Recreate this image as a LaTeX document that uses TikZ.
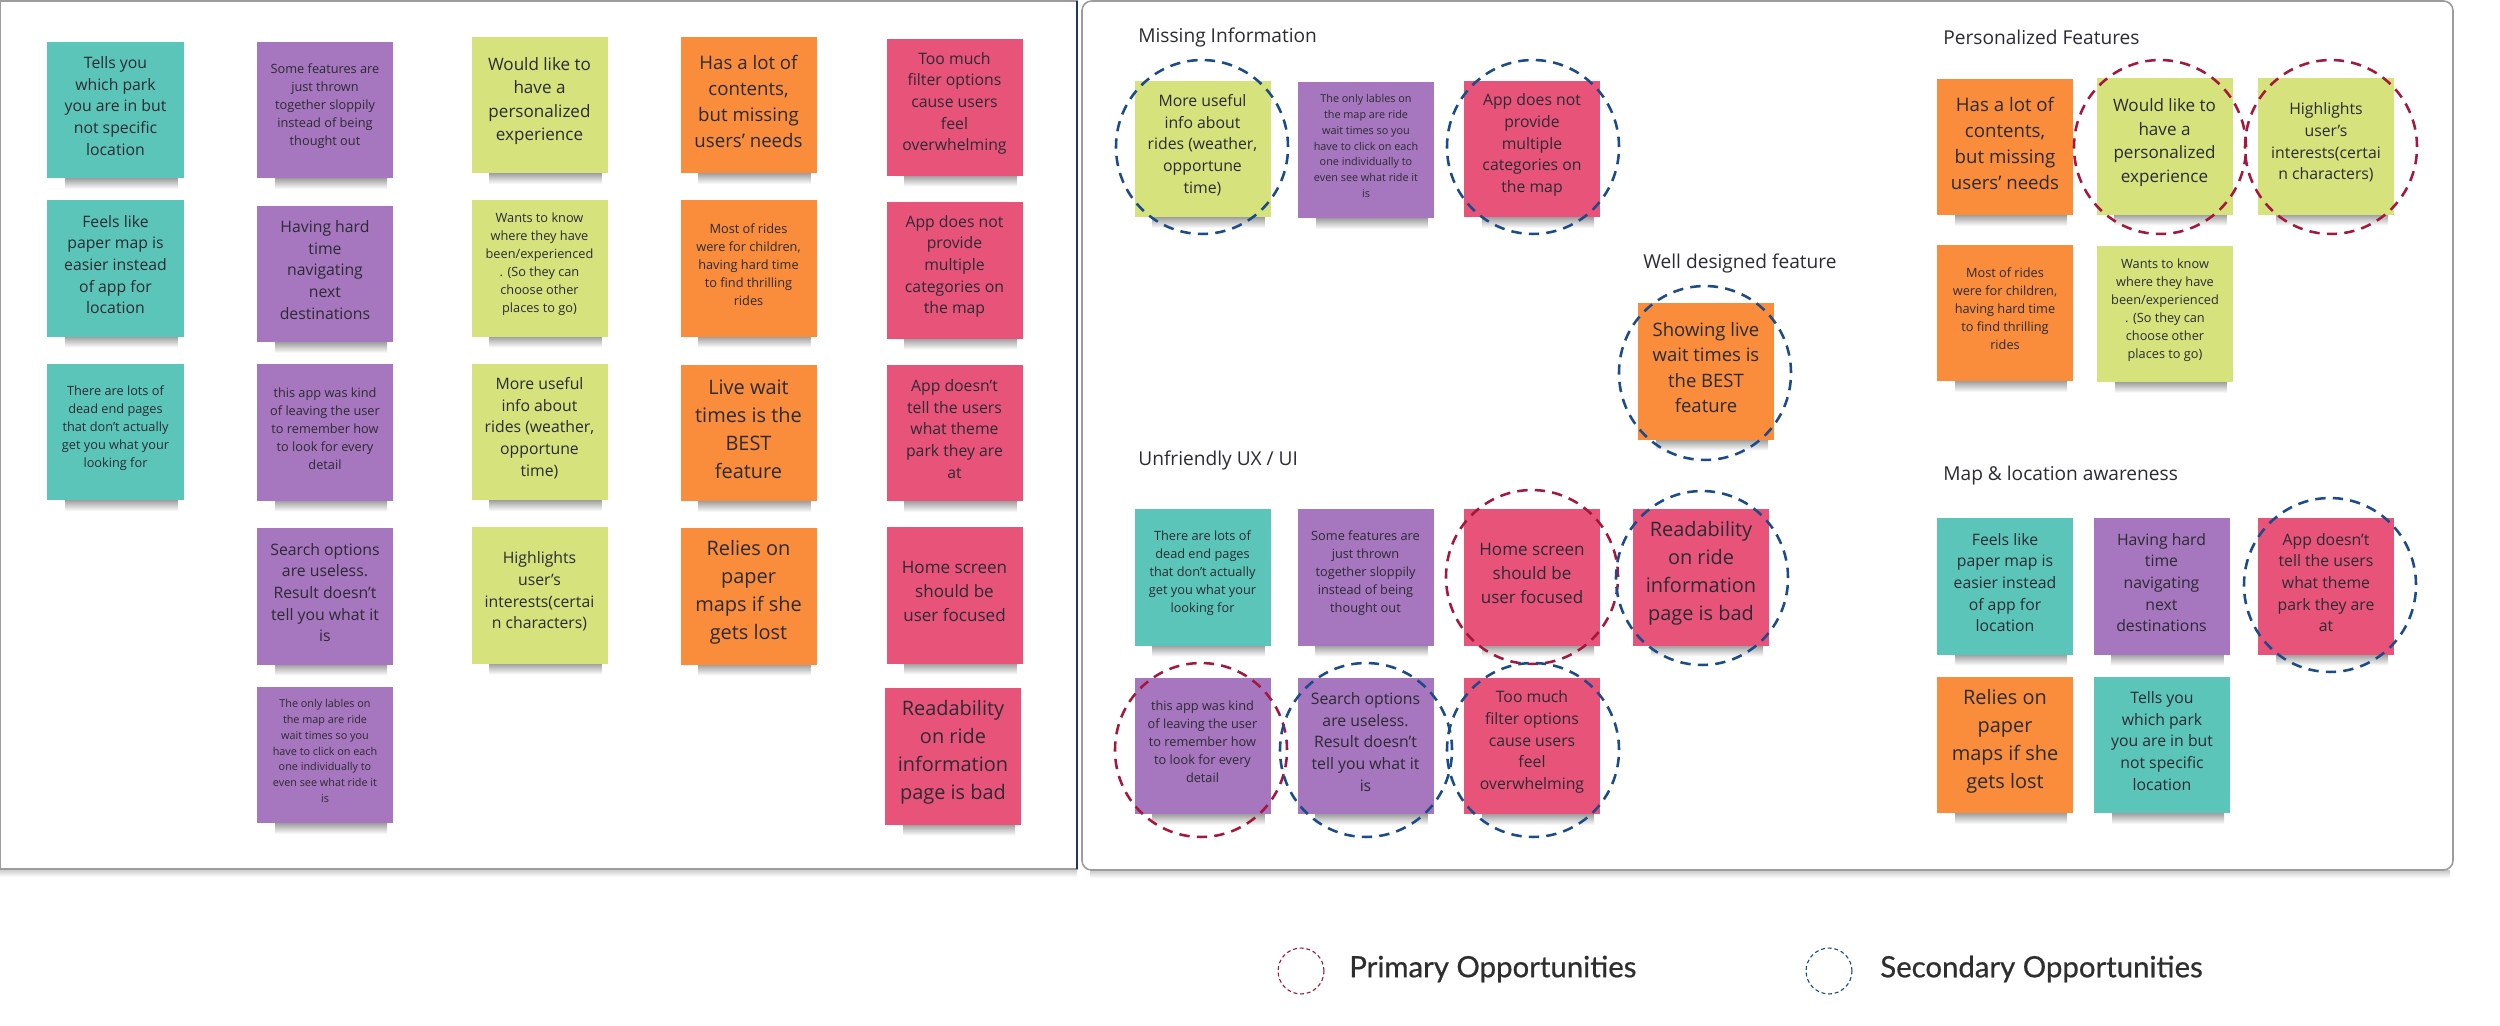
\documentclass[tikz,border=0pt]{standalone}
\usepackage{fontspec}
\setmainfont{Open Sans}
\newfontfamily\legendfont[FakeBold=0.6]{Lato}
\usetikzlibrary{calc,shapes.geometric}
\definecolor{tealn}{HTML}{5CC5B9}
\definecolor{purpn}{HTML}{A676BE}
\definecolor{yelln}{HTML}{D6E27C}
\definecolor{orann}{HTML}{F98D3C}
\definecolor{pinkn}{HTML}{E8537A}
\definecolor{inkc}{HTML}{2B2B33}
\definecolor{bluec}{HTML}{1B4C88}
\definecolor{redc}{HTML}{A3183C}
\definecolor{panelc}{HTML}{9C9C9C}
\definecolor{divc}{HTML}{22385A}
\definecolor{legc}{HTML}{2E2E2E}
\tikzset{
  x=0.6272pt, y=-0.6272pt,
  note/.style={draw=none, minimum width=85.3pt, minimum height=85.9pt, inner sep=0pt, outer sep=0pt},
  ntext/.style={align=center, text=inkc, inner sep=0pt},
  fXL/.style={font=\fontsize{12.5}{17.5}\selectfont},
  fL/.style={font=\fontsize{11.7}{16.3}\selectfont},
  fLL/.style={font=\fontsize{11.6}{16}\selectfont},
  fM/.style={font=\fontsize{10.7}{14.8}\selectfont},
  fN/.style={font=\fontsize{9.9}{13.6}\selectfont},
  fS/.style={font=\fontsize{8}{11.3}\selectfont},
  fT/.style={font=\fontsize{6.8}{9.9}\selectfont},
  opp/.style={ellipse, minimum width=107.9pt, minimum height=109.1pt, inner sep=0pt, line width=1.6pt, dash pattern=on 6.5pt off 4.5pt},
  prim/.style={opp, draw=redc},
  seco/.style={opp, draw=bluec},
  legcirc/.style={circle, minimum size=28.8pt, inner sep=0pt, line width=0.7pt, dash pattern=on 2.4pt off 1.8pt},
  grouptitle/.style={anchor=west, font=\fontsize{12}{14}\selectfont, text=inkc, inner sep=0pt},
  legtext/.style={anchor=west, font=\legendfont\fontsize{18.4}{20}\selectfont, text=legc, inner sep=0pt},
}
\newcommand\stickynote[6]{%
  \shade[top color=black!45, bottom color=white] (#2-50,#3+66) rectangle (#2+62,#3+79);
  \node[note, fill=#4] (#1) at (#2,#3) {};
  \node[ntext, #5] (#1t) at ([yshift=2.5pt]#1.center) {#6};
}
\begin{document}
\begin{tikzpicture}
\useasboundingbox (0,0) rectangle (2500,1026);
\fill[white] (0,0) rectangle (2500,1026);
% panels
\shade[top color=black!22, bottom color=white] (0,869) rectangle (1077,877);
\shade[top color=black!22, bottom color=white] (1090,870) rectangle (2450,878);
\fill[white] (0,1) rectangle (1077,869);
\draw[panelc, line width=1pt] (0,1) rectangle (1077,869);
\draw[divc, line width=1.4pt] (1077,1) -- (1077,869);
\draw[panelc, line width=1pt, rounded corners=6pt, fill=white] (1082,1) rectangle (2453,870);

% ---- left panel ----
\stickynote{L11}{115.5}{110}{tealn}{fN}{Tells you\\which park\\you are in but\\not specific\\location}
\stickynote{L12}{115.5}{268.5}{tealn}{fN}{Feels like\\paper map is\\easier instead\\of app for\\location}
\stickynote{L13}{115.5}{432}{tealn}{fS}{There are lots of\\dead end pages\\that don't actually\\get you what your\\looking for}
\stickynote{L21}{325}{110}{purpn}{fS}{Some features are\\just thrown\\together sloppily\\instead of being\\thought out}
\stickynote{L22}{325}{274}{purpn}{fN}{Having hard\\time\\navigating\\next\\destinations}
\stickynote{L23}{325}{432.5}{purpn}{fS}{this app was kind\\of leaving the user\\to remember how\\to look for every\\detail}
\stickynote{L24}{325}{596.5}{purpn}{fN}{Search options\\are useless.\\Result doesn't\\tell you what it\\is}
\stickynote{L25}{325}{755}{purpn}{fT}{The only lables on\\the map are ride\\wait times so you\\have to click on each\\one individually to\\even see what ride it\\is}
\stickynote{L31}{539.5}{105}{yelln}{fM}{Would like to\\have a\\personalized\\experience}
\stickynote{L32}{539.5}{268.5}{yelln}{fS}{Wants to know\\where they have\\been/experienced\\. (So they can\\choose other\\places to go)}
\stickynote{L33}{539.5}{432}{yelln}{fN}{More useful\\info about\\rides (weather,\\opportune\\time)}
\stickynote{L34}{539.5}{595.5}{yelln}{fN}{Highlights\\user's\\interests(certai\\n characters)}
\stickynote{L41}{748.5}{105}{orann}{fL}{Has a lot of\\contents,\\but missing\\users' needs}
\stickynote{L42}{748.5}{268.5}{orann}{fS}{Most of rides\\were for children,\\having hard time\\to find thrilling\\rides}
\stickynote{L43}{748.5}{433}{orann}{fXL}{Live wait\\times is the\\BEST\\feature}
\stickynote{L44}{748.5}{596.5}{orann}{fXL}{Relies on\\paper\\maps if she\\gets lost}
\stickynote{L51}{954.5}{107.5}{pinkn}{fN}{Too much\\filter options\\cause users\\feel\\overwhelming}
\stickynote{L52}{954.5}{270.5}{pinkn}{fN}{App does not\\provide\\multiple\\categories on\\the map}
\stickynote{L53}{954.5}{433}{pinkn}{fN}{App doesn't\\tell the users\\what theme\\park they are\\at}
\stickynote{L54}{954.5}{595.5}{pinkn}{fM}{Home screen\\should be\\user focused}
\stickynote{L55}{953}{756.5}{pinkn}{fXL}{Readability\\on ride\\information\\page is bad}

% ---- right panel titles ----
\node[grouptitle] (tmiss) at (1138,37) {Missing Information};
\node[grouptitle] (twell) at (1643,263) {Well designed feature};
\node[grouptitle] (tunf) at (1138,460) {Unfriendly UX / UI};
\node[grouptitle] (tpers) at (1943,37) {Personalized Features};
\node[grouptitle] (tmap) at (1943,476) {Map \& location awareness};

% ---- right panel notes ----
\stickynote{R1}{1202.5}{149}{yelln}{fN}{More useful\\info about\\rides (weather,\\opportune\\time)}
\stickynote{R2}{1366}{150}{purpn}{fT}{The only lables on\\the map are ride\\wait times so you\\have to click on each\\one individually to\\even see what ride it\\is}
\stickynote{R3}{1532}{149}{pinkn}{fN}{App does not\\provide\\multiple\\categories on\\the map}
\stickynote{R4}{1706}{371.5}{orann}{fLL}{Showing live\\wait times is\\the BEST\\feature}
\stickynote{R5}{1202.5}{577.5}{tealn}{fS}{There are lots of\\dead end pages\\that don't actually\\get you what your\\looking for}
\stickynote{R6}{1365.5}{577.5}{purpn}{fS}{Some features are\\just thrown\\together sloppily\\instead of being\\thought out}
\stickynote{R7}{1532}{577.5}{pinkn}{fM}{Home screen\\should be\\user focused}
\stickynote{R8}{1701}{577.5}{pinkn}{fXL}{Readability\\on ride\\information\\page is bad}
\stickynote{R9}{1202.5}{746}{purpn}{fS}{this app was kind\\of leaving the user\\to remember how\\to look for every\\detail}
\stickynote{R10}{1365.5}{746}{purpn}{fN}{Search options\\are useless.\\Result doesn't\\tell you what it\\is}
\stickynote{R11}{1532}{746}{pinkn}{fN}{Too much\\filter options\\cause users\\feel\\overwhelming}
\stickynote{R12}{2005}{147}{orann}{fL}{Has a lot of\\contents,\\but missing\\users' needs}
\stickynote{R13}{2164.5}{146.5}{yelln}{fM}{Would like to\\have a\\personalized\\experience}
\stickynote{R14}{2326}{146.5}{yelln}{fN}{Highlights\\user's\\interests(certai\\n characters)}
\stickynote{R15}{2005}{313}{orann}{fS}{Most of rides\\were for children,\\having hard time\\to find thrilling\\rides}
\stickynote{R16}{2165}{314}{yelln}{fS}{Wants to know\\where they have\\been/experienced\\. (So they can\\choose other\\places to go)}
\stickynote{R17}{2005}{586.5}{tealn}{fN}{Feels like\\paper map is\\easier instead\\of app for\\location}
\stickynote{R18}{2161.5}{586.5}{purpn}{fN}{Having hard\\time\\navigating\\next\\destinations}
\stickynote{R19}{2326}{586.5}{pinkn}{fN}{App doesn't\\tell the users\\what theme\\park they are\\at}
\stickynote{R20}{2005}{745}{orann}{fXL}{Relies on\\paper\\maps if she\\gets lost}
\stickynote{R21}{2162}{745}{tealn}{fN}{Tells you\\which park\\you are in but\\not specific\\location}

% ---- opportunity circles ----
\node[seco] (C1) at (1202,147) {};
\node[seco] (C2) at (1533,147) {};
\node[seco] (C3) at (1705,373) {};
\node[prim] (C4) at (1532,577) {};
\node[seco] (C5) at (1702,578) {};
\node[prim] (C6) at (1201,750) {};
\node[seco] (C7) at (1366,750) {};
\node[seco] (C8) at (1533,750) {};
\node[prim] (C9) at (2160,147) {};
\node[prim] (C10) at (2331,147) {};
\node[seco] (C11) at (2330,585) {};

% ---- legend ----
\node[legcirc, draw=redc] (lp) at (1301,971) {};
\node[legtext] (lpt) at (1349,969) {Primary Opportunities};
\node[legcirc, draw=bluec] (ls) at (1829,971) {};
\node[legtext] (lst) at (1880,969) {Secondary Opportunities};
\end{tikzpicture}
\end{document}
